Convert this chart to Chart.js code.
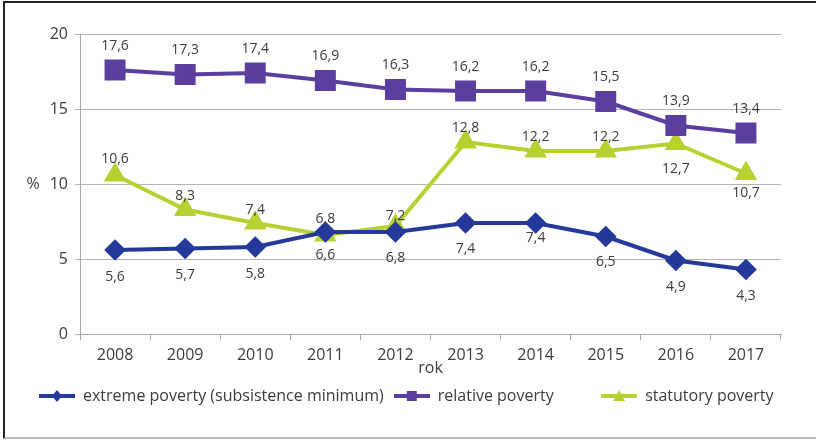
<!DOCTYPE html>
<html>
<head>
<meta charset="utf-8">
<script src="https://cdn.jsdelivr.net/npm/chart.js@4/dist/chart.umd.min.js"></script>
<style>
  body { margin: 0; background: #fff; }
  #wrap { position: relative; width: 816px; height: 440px; }
  #frame { position: absolute; left: 3px; top: 1px; width: 830px; height: 434px;
           border-top: 2px solid #222; border-left: 2px solid #222; border-bottom: 2px solid #bbb; }
  canvas { position: absolute; left: 0; top: 0; }
</style>
</head>
<body>
<div id="wrap">
  <div id="frame"></div>
  <canvas id="c" width="816" height="440"></canvas>
</div>
<script>
const years = ["2008", "2009", "2010", "2011", "2012", "2013", "2014", "2015", "2016", "2017"];
const extremePoverty = [5.6, 5.7, 5.8, 6.8, 6.8, 7.4, 7.4, 6.5, 4.9, 4.3];
const relativePoverty = [17.6, 17.3, 17.4, 16.9, 16.3, 16.2, 16.2, 15.5, 13.9, 13.4];
const statutoryPoverty = [10.6, 8.3, 7.4, 6.6, 7.2, 12.8, 12.2, 12.2, 12.7, 10.7];
const yTicks = [0, 5, 10, 15, 20];

// label offsets in px (negative = above the point)
const extremeOffsets = [27, 27, 27, -13, 26, 26, 15, 26, 27, 27];
const relativeOffsets = [-24, -24, -24, -24, -24, -24, -24, -24, -24, -24];
const statutoryOffsets = [-16, -13, -13, 20, -10, -14, -14, -14, 26, 20];

const BLUE = "#24399a";
const PURPLE = "#5b3f9f";
const GREEN = "#b7d133";
const TEXT = "#3c3c3c";
const FONT = "'Open Sans', sans-serif";

// legend symbol: line with marker
function legendIcon(color, style) {
  const cv = document.createElement("canvas");
  cv.width = 36; cv.height = 14;
  const g = cv.getContext("2d");
  g.strokeStyle = color; g.fillStyle = color; g.lineWidth = 4;
  g.beginPath(); g.moveTo(0, 7); g.lineTo(36, 7); g.stroke();
  g.beginPath();
  if (style === "rectRot") {
    g.moveTo(18, 1); g.lineTo(23, 7); g.lineTo(18, 13); g.lineTo(13, 7);
  } else if (style === "rect") {
    g.rect(13, 2, 10, 10);
  } else {
    g.moveTo(18, 1); g.lineTo(24, 12); g.lineTo(12, 12);
  }
  g.closePath(); g.fill();
  return cv;
}

const valueLabels = {
  id: "valueLabels",
  afterLayout(chart) {
    // nudge the legend row to the right like in the original
    chart.legend.left += 29;
    chart.legend.right += 29;
  },
  afterDatasetsDraw(chart) {
    const ctx = chart.ctx;
    ctx.save();
    ctx.font = "14px " + FONT;
    ctx.fillStyle = TEXT;
    ctx.textAlign = "center";
    ctx.textBaseline = "middle";
    chart.data.datasets.forEach((ds, di) => {
      const meta = chart.getDatasetMeta(di);
      meta.data.forEach((pt, i) => {
        const txt = ds.data[i].toFixed(1).replace(".", ",");
        ctx.fillText(txt, pt.x, pt.y + ds.labelOffsets[i]);
      });
    });
    // "%" axis label beside the 10 tick
    const y = chart.scales.y;
    ctx.font = "16px " + FONT;
    ctx.fillText("%", 33, y.getPixelForValue(10));
    ctx.restore();
  }
};

new Chart(document.getElementById("c"), {
  type: "line",
  data: {
    labels: years,
    datasets: [
      {
        label: "extreme poverty (subsistence minimum)",
        data: extremePoverty,
        labelOffsets: extremeOffsets,
        borderColor: BLUE,
        backgroundColor: BLUE,
        borderWidth: 4,
        pointStyle: "rectRot",
        pointRadius: 8,
        legendIcon: legendIcon(BLUE, "rectRot"),
      },
      {
        label: "relative poverty\u00a0\u00a0\u00a0\u00a0\u00a0\u00a0\u00a0\u00a0\u00a0",
        data: relativePoverty,
        labelOffsets: relativeOffsets,
        borderColor: PURPLE,
        backgroundColor: PURPLE,
        borderWidth: 4,
        pointStyle: "rect",
        pointRadius: 12,
        legendIcon: legendIcon(PURPLE, "rect"),
      },
      {
        label: "statutory poverty",
        data: statutoryPoverty,
        labelOffsets: statutoryOffsets,
        borderColor: GREEN,
        backgroundColor: GREEN,
        borderWidth: 4,
        pointStyle: "triangle",
        pointRadius: 9,
        legendIcon: legendIcon(GREEN, "triangle"),
      },
    ],
  },
  options: {
    responsive: false,
    animation: false,
    devicePixelRatio: 1,
    layout: { padding: { left: 0, right: 35, top: 34, bottom: 26 } },
    plugins: {
      legend: {
        position: "bottom",
        align: "start",
        labels: {
          usePointStyle: true,
          pointStyleWidth: 36,
          padding: 10,
          color: TEXT,
          font: { family: FONT, size: 16 },
          generateLabels(chart) {
            const items = Chart.defaults.plugins.legend.labels.generateLabels(chart);
            items.forEach((it) => { it.pointStyle = chart.data.datasets[it.datasetIndex].legendIcon; });
            return items;
          },
        },
      },
      tooltip: { enabled: false },
    },
    scales: {
      x: {
        offset: true,
        grid: { display: true, offset: true, drawOnChartArea: false, drawTicks: true, tickLength: 6, color: "#a8a8a8" },
        border: { color: "#a8a8a8" },
        ticks: { color: TEXT, font: { family: FONT, size: 16 }, padding: 6 },
        title: { display: true, text: "rok", color: TEXT, font: { family: FONT, size: 16 }, padding: { top: -4, bottom: 0 } },
        afterFit(scale) { scale.height = 44; },
      },
      y: {
        min: 0,
        max: 20,
        afterBuildTicks(scale) { scale.ticks = yTicks.map((v) => ({ value: v })); },
        grid: { color: "#b5b5b5", tickLength: 5, drawTicks: true },
        border: { color: "#a8a8a8" },
        ticks: { color: TEXT, font: { family: FONT, size: 16 }, padding: 7 },
        afterFit(scale) { scale.width = 80; },
      },
    },
  },
  plugins: [valueLabels],
});
</script>
</body>
</html>
